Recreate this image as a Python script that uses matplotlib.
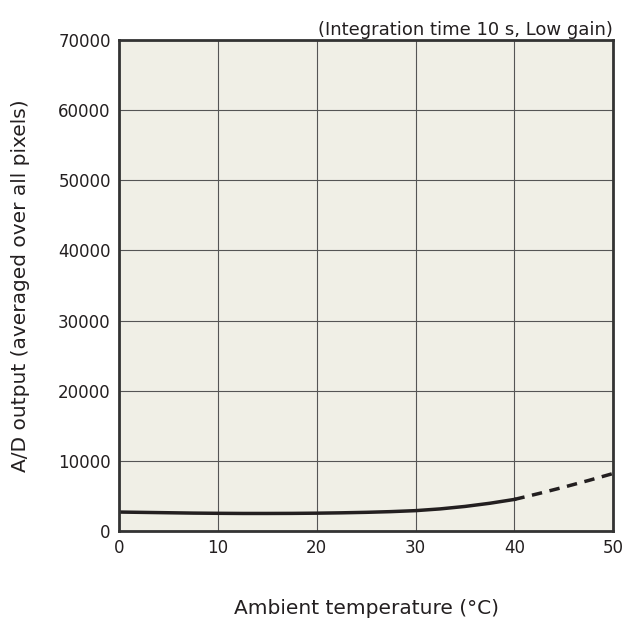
import numpy as np
import matplotlib.pyplot as plt

# readings
temp_solid = [0, 2.5, 5, 7.5, 10, 12.5, 15, 17.5, 20, 22.5, 25, 27.5, 30, 32.5, 35, 37.5, 40]
ad_solid = [2700, 2650, 2600, 2550, 2520, 2500, 2500, 2510, 2540, 2590, 2660, 2760, 2900, 3150, 3500, 3950, 4500]
temp_dash = [40, 42.5, 45, 47.5, 50]
ad_dash = [4500, 5350, 6250, 7200, 8200]

xticks = [0, 10, 20, 30, 40, 50]
yticks = [0, 10000, 20000, 30000, 40000, 50000, 60000, 70000]

plt.rcParams['font.family'] = ['DejaVu Sans']
fig = plt.figure(figsize=(6.27, 6.23), dpi=100)
ax = fig.add_axes([0.190, 0.1477, 0.788, 0.788])
ax.set_facecolor('#f0efe6')

ax.plot(temp_solid, ad_solid, '-', color='#231f20', lw=2.5)
ax.plot(temp_dash, ad_dash, '--', color='#231f20', lw=2.5, dashes=(3, 2.2))

ax.set_xlim(0, 50)
ax.set_ylim(0, 70000)
ax.set_xticks(xticks)
ax.set_yticks(yticks)
ax.tick_params(length=0, labelsize=12, pad=6, colors='#231f20')
ax.grid(True, color='#555555', lw=0.8)
for s in ax.spines.values():
    s.set_linewidth(2)
    s.set_color('#333333')

ax.set_xlabel('Ambient temperature (°C)', fontsize=14.5, labelpad=30, color='#231f20')
ax.set_ylabel('A/D output (averaged over all pixels)', fontsize=14.5, labelpad=20, color='#231f20')
ax.set_title('(Integration time 10 s, Low gain)', loc='right', fontsize=13, pad=4, color='#231f20')

plt.savefig('out.png')
